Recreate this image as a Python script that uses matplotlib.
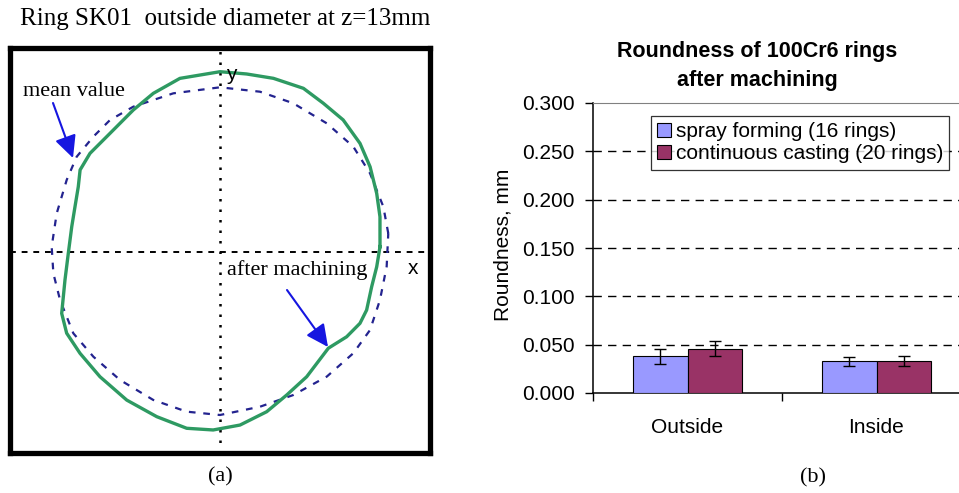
import numpy as np
import matplotlib.pyplot as plt

# roundness profile of ring SK01, polar: angle (deg) and radius (plot units)
profile_deg = [1.9, 12.4, 20.5, 29.6, 37.8, 47.0, 55.2, 63.0, 72.9, 81.5,
               90.0, 103.0, 112.8, 121.4, 132.8, 142.8, 149.6, 155.3, 162.7, 170.3,
               180.5, 190.2, 201.2, 207.9, 215.9, 226.1, 237.8, 249.0, 259.3, 267.8,
               276.6, 286.3, 295.0, 304.8, 318.4, 326.2, 333.0, 338.4, 347.1, 354.6]
profile_r = [160.1, 163.8, 167.3, 172.6, 177.2, 180.6, 181.1, 183.7, 181.7, 180.0,
             180.3, 178.2, 172.1, 166.4, 161.8, 163.2, 162.2, 156.0, 151.9, 150.4,
             151.7, 157.5, 169.8, 173.5, 172.8, 173.1, 175.0, 176.4, 179.4, 178.1,
             174.2, 166.4, 157.8, 151.9, 144.9, 152.4, 157.1, 157.7, 155.6, 157.4]

# mean value circle
mean_deg = [6.3, 15.5, 27.7, 38.3, 50.3, 63.8, 76.0, 90.0, 106.4, 120.8,
            129.8, 137.7, 146.4, 154.8, 166.7, 178.2, 187.3, 196.7, 209.0, 219.6,
            232.0, 245.7, 258.2, 270.0, 284.5, 297.1, 310.6, 322.8, 332.5, 343.3, 355.0]
mean_r = [169.3, 169.5, 169.4, 169.9, 167.2, 165.8, 165.2, 164.7, 165.4, 169.2,
          171.8, 171.3, 172.1, 169.4, 167.8, 168.4, 168.0, 167.0, 167.7, 164.3,
          162.4, 162.3, 163.1, 163.0, 159.8, 160.7, 164.1, 167.4, 169.1, 167.0, 167.3]

# roundness bar chart
positions = ['Outside', 'Inside']
series = ['spray forming (16 rings)', 'continuous casting (20 rings)']
spray = [0.038, 0.033]
spray_err = [0.008, 0.0047]
casting = [0.046, 0.033]
casting_err = [0.008, 0.0055]
yticks = [0.0, 0.05, 0.10, 0.15, 0.20, 0.25, 0.30]

W, H = 959, 493
fig = plt.figure(figsize=(W / 100, H / 100), dpi=100)
serif = 'Liberation Serif'
sans = 'Liberation Sans'


def polar_xy(deg, r):
    t = np.radians(np.append(deg, deg[0]))
    rr = np.append(r, r[0])
    return rr * np.cos(t), rr * np.sin(t)


# ---- (a) profile plot ----
ax1 = fig.add_axes([9.5 / W, (H - 452.5) / H, 420 / W, 405 / H])
ax1.set_xlim(-210.5, 209.5)
ax1.set_ylim(-200.5, 204.5)
ax1.set_xticks([])
ax1.set_yticks([])
for s in ax1.spines.values():
    s.set_linewidth(3.8)

ax1.axhline(0, color='black', lw=1.4, ls=(0, (3, 3)))
ax1.axvline(0, color='black', lw=1.8, ls=(0, (1, 3.2)))

mx, my = polar_xy(mean_deg, mean_r)
ax1.plot(mx, my, color='#23238f', lw=1.6, ls=(0, (3, 3.5)))
px, py = polar_xy(profile_deg, profile_r)
ax1.plot(px, py, color='#2e9a62', lw=2.4, solid_joinstyle='round')

ax1.text(11, 177, 'y', fontsize=15, family=sans, ha='center', va='center')
ax1.text(193, -16, 'x', fontsize=15, family=sans, ha='center', va='center')
ax1.text(-197, 160, 'mean value', fontsize=16, family=serif, ha='left', va='center')
ax1.text(7, -18, 'after machining', fontsize=16, family=serif, ha='left', va='center',
         bbox=dict(fc='white', ec='none', pad=0.5))

arrow = dict(arrowstyle='-|>,head_length=0.45,head_width=0.22', color='#1616e0',
             lw=1.5, mutation_scale=30, shrinkA=0, shrinkB=0)
ax1.annotate('', xy=(-147, 94), xytext=(-167, 149), arrowprops=arrow)
ax1.annotate('', xy=(108, -95), xytext=(67, -38), arrowprops=arrow)

fig.text(225.5 / W, 1 - 19 / H, 'Ring SK01  outside diameter at z=13mm',
         fontsize=18, family=serif, ha='center', va='center')
fig.text(220 / W, 1 - 477 / H, '(a)', fontsize=16, family=serif, ha='center', va='center')

# ---- (b) bar chart ----
ax2 = fig.add_axes([593 / W, (H - 393) / H, 378 / W, 290 / H])
x = np.arange(len(positions))
bw = 0.29
ax2.bar(x - bw / 2, spray, bw, color='#9999ff', edgecolor='black', lw=0.8,
        label=series[0], zorder=3)
ax2.bar(x + bw / 2, casting, bw, color='#993366', edgecolor='black', lw=0.8,
        label=series[1], zorder=3)
ax2.errorbar(x - bw / 2, spray, yerr=spray_err, fmt='none', ecolor='black',
             elinewidth=1, capsize=4, capthick=1, zorder=4)
ax2.errorbar(x + bw / 2, casting, yerr=casting_err, fmt='none', ecolor='black',
             elinewidth=1, capsize=4, capthick=1, zorder=4)

for v in yticks[1:-1]:
    ax2.axhline(v, color='black', lw=1.0, ls=(0, (6, 4.5)), zorder=1)

ax2.set_xlim(-0.5, 1.5)
ax2.set_ylim(0, 0.3)
ax2.set_yticks(yticks)
ax2.set_yticklabels(['%.3f' % v for v in yticks], fontsize=15, family=sans)
ax2.tick_params(axis='y', length=6, width=1, pad=7)

ax2.set_xticks([-0.5, 0.5, 1.5])
ax2.set_xticklabels([])
ax2.tick_params(axis='x', which='major', length=6, width=1)
ax2.set_xticks(x, minor=True)
ax2.set_xticklabels(positions, minor=True, fontsize=15, family=sans)
ax2.tick_params(axis='x', which='minor', length=0, pad=18)

ax2.spines['top'].set_color('#808080')
ax2.spines['right'].set_visible(False)
for s in ['left', 'bottom']:
    ax2.spines[s].set_linewidth(1.1)

ax2.set_ylabel('Roundness, mm', fontsize=15, family=sans)
ax2.yaxis.set_label_coords(-0.214, 0.51)

leg = ax2.legend(loc='upper left', bbox_to_anchor=(0.1534, 0.955), borderaxespad=0,
                 prop={'family': sans, 'size': 15}, frameon=True, fancybox=False,
                 handlelength=0.68, handleheight=0.68, handletextpad=0.2,
                 borderpad=0.3, labelspacing=0.15)
leg.get_frame().set_edgecolor('black')
leg.get_frame().set_linewidth(0.9)

fig.text(757 / W, 1 - 66 / H, 'Roundness of 100Cr6 rings\nafter machining',
         fontsize=15.5, fontweight='bold', family=sans, ha='center', va='center',
         linespacing=1.5)
fig.text(813 / W, 1 - 478 / H, '(b)', fontsize=16, family=serif, ha='center', va='center')

fig.savefig('out.png', dpi=100)
